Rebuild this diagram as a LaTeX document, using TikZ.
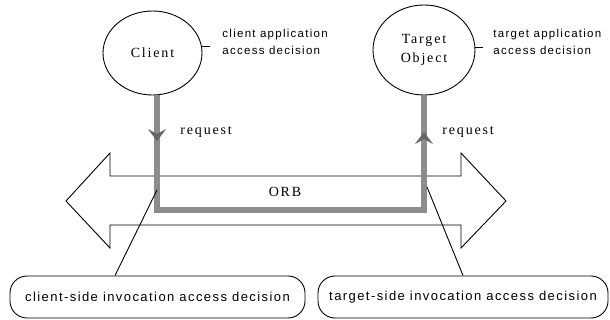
\documentclass[tikz,border=0pt]{standalone}
\usepackage{amsmath}
\usepackage{fontspec}
\setmainfont{Liberation Serif}[LetterSpace=13]
\newfontfamily\notefont{Liberation Sans}[LetterSpace=11]
\usetikzlibrary{shapes.geometric, arrows.meta}

\begin{document}
\begin{tikzpicture}[x=1pt, y=-1pt, line width=0.9pt,
		obj/.style={draw, ellipse, inner sep=0, align=center, font=\fontsize{14}{19}\selectfont},
		note/.style={anchor=west, inner sep=0, align=left, font=\notefont\fontsize{11.5}{17}\selectfont},
		decision/.style={draw, rounded corners=17pt, minimum height=42, inner sep=0, font=\notefont\fontsize{13}{14}\selectfont},
		req/.style={line width=6pt, black!45},
		reqtip/.style={-{Stealth[length=12pt, width=18pt, inset=5pt, line width=0.5pt, color=black!60]}},
	]
		\useasboundingbox (0, 0) rectangle (610, 320);

		\node[obj, minimum width=99, minimum height=84] (C) at (152.5, 53) {Client};
		\node[obj, minimum width=102, minimum height=90] (T) at (424, 50) {Target\\Object};

		\node[note] (N1) at (222, 41.5) {client application\\access decision};
		\node[note] (N2) at (493, 42) {target application\\access decision};
		\draw (C.7) -- +(8, 0);
		\draw (T.3) -- +(8, 0);

		\draw (66, 201) -- (110, 153) -- (110, 176) -- (461, 176) -- (461, 153) -- (506, 201)
			-- (461, 248) -- (461, 225) -- (110, 225) -- (110, 248) -- cycle;
		\node[inner sep=0, font=\fontsize{14}{15}\selectfont] (O) at (285, 192) {ORB};

		\coordinate (A1) at (157, 141);
		\coordinate (A2) at (424, 132);
		\coordinate (K1) at (157, 210);
		\coordinate (K2) at (424, 210);
		\draw[req] ([xshift=4.5]C.south) -- (K1) -- (K2) -- (T.south);
		\draw[req, reqtip] ([xshift=4.5]C.south) -- (A1);
		\draw[req, reqtip] (K2) -- (A2);

		\node[anchor=west, inner sep=0, font=\fontsize{14}{15}\selectfont] (Q1) at (180, 132) {request};
		\node[anchor=west, inner sep=0, font=\fontsize{14}{15}\selectfont] (Q2) at (442, 132) {request};

		\node[decision, minimum width=295] (B1) at (157.5, 297) {client-side invocation access decision};
		\node[decision, minimum width=290] (B2) at (463, 297) {target-side invocation access decision};

		\coordinate (H1) at (157, 190);
		\coordinate (H2) at (427, 187);
		\draw (H1) -- ([xshift=-42.5]B1.north);
		\draw (H2) -- (B2.north);
\end{tikzpicture}
\end{document}
